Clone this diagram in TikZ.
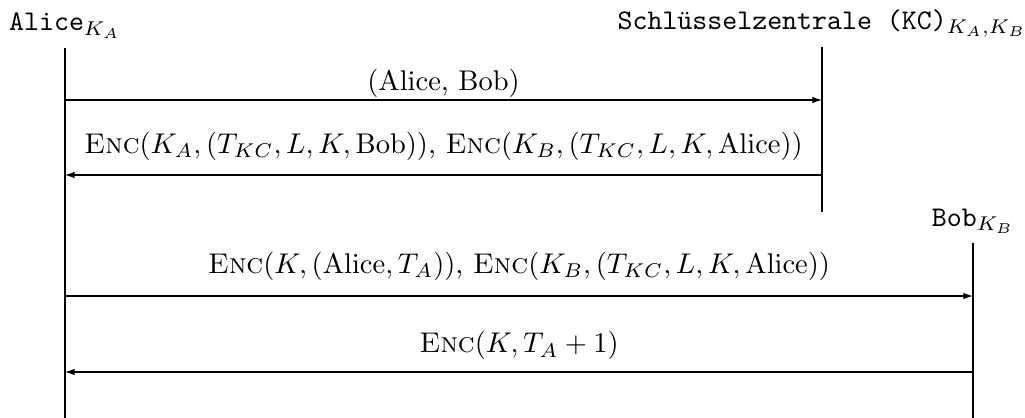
\documentclass[tikz,border=0pt]{standalone}
\usepackage{amsmath,amssymb}
\usepackage{tikz}
\usetikzlibrary{arrows.meta,positioning,calc}
\tikzset{
  party/.style = {font=\normalsize, inner sep=3.33pt},
  life/.style  = {thin},
  msg/.style   = {-{Latex[length=3.4pt,width=2.3pt]}, thin},
  mlab/.style  = {anchor=base, inner sep=0pt, yshift=#1},
}
\newcommand{\Enc}{\textsc{Enc}}

\begin{document}
\begin{tikzpicture}
\useasboundingbox (0,0) rectangle (12.639,-5.154);

% ---- parties ----
\node[party, anchor=base] (alice) at (0.801,-0.382) {\texttt{Alice}$_{K_A}$};
\node[party, anchor=base] (kc) at (10.136,-0.358) {\texttt{Schlüsselzentrale (KC)}$_{K_A,K_B}$};
\node[party, anchor=base] (bob) at (11.998,-2.787) {\texttt{Bob}$_{K_B}$};

% ---- lifelines ----
\coordinate (alice-end) at (0.801,-5.154);
\coordinate (kc-end) at (10.136,-2.614);
\coordinate (bob-end) at (11.998,-5.154);
\draw[life] (alice.south) -- (alice-end);
\draw[life] (kc.south) -- (kc-end);
\draw[life] (bob.south) -- (bob-end);

% ---- messages ----
\draw[msg] (alice |- 0,-1.233) -- node[mlab=3.5pt]{(Alice, Bob)} (kc |- 0,-1.233);
\draw[msg] (kc |- 0,-2.158) -- node[mlab=7.7pt]
      {$\Enc(K_A, (T_{KC}, L, K, \mathrm{Bob}))$, $\Enc(K_B, (T_{KC}, L, K, \mathrm{Alice}))$} (alice |- 0,-2.158);
\draw[msg] (alice |- 0,-3.650) -- node[mlab=8pt]
      {$\Enc(K, (\mathrm{Alice}, T_A))$, $\Enc(K_B, (T_{KC}, L, K, \mathrm{Alice}))$} (bob |- 0,-3.650);
\draw[msg] (bob |- 0,-4.587) -- node[mlab=6.7pt]{$\Enc(K, T_A + 1)$} (alice |- 0,-4.587);

\end{tikzpicture}
\end{document}
